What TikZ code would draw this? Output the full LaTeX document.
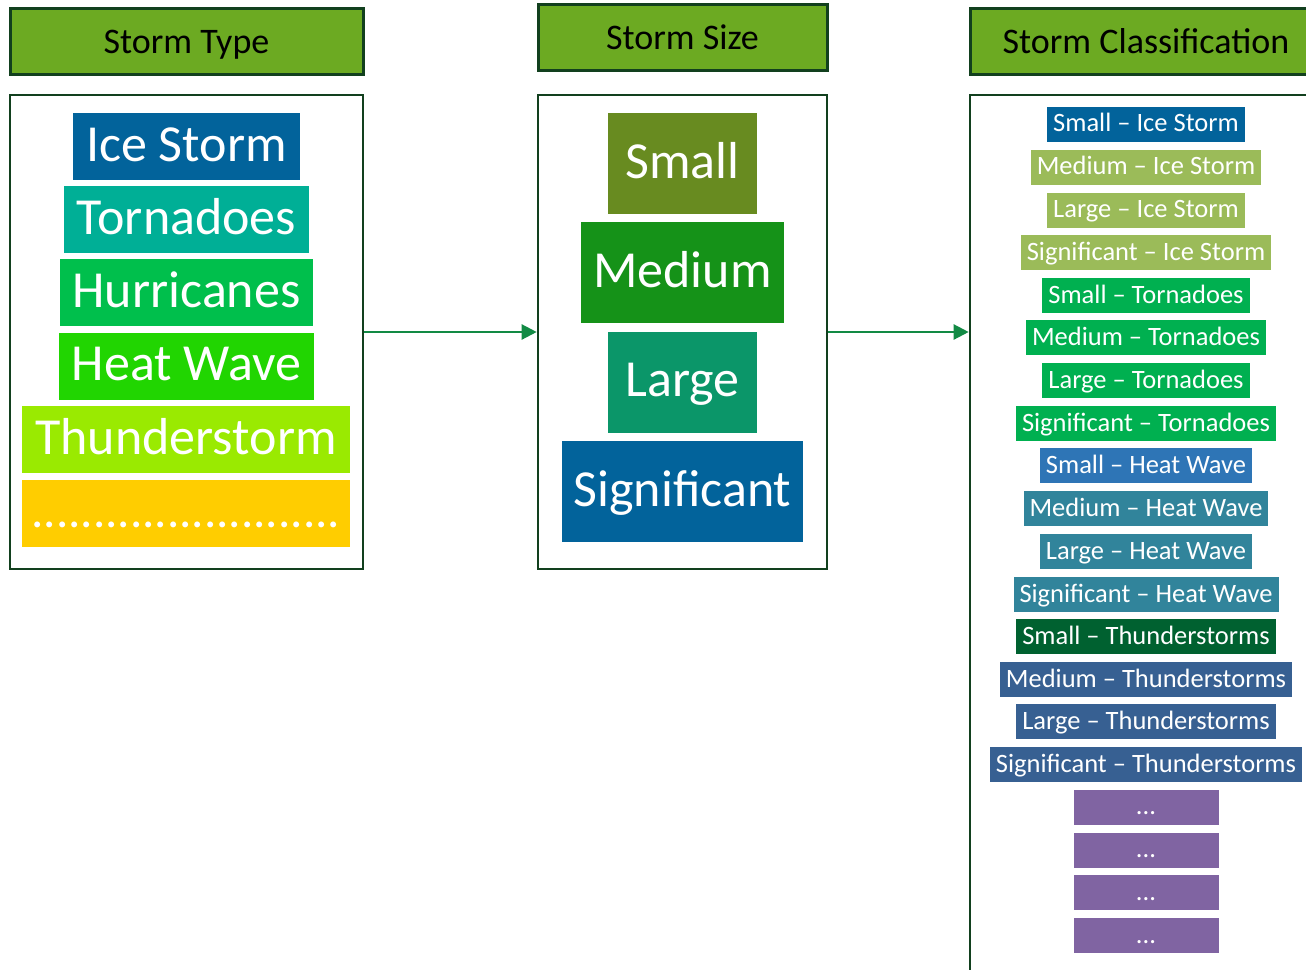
\documentclass[tikz,border=0pt]{standalone}
\usepackage{fontspec}
\setmainfont{Carlito}
\usetikzlibrary{arrows.meta}
\usetikzlibrary{positioning}

\definecolor{headGreen}{RGB}{108,170,34}
\definecolor{frameGreen}{RGB}{18,64,30}
\definecolor{arrowGreen}{RGB}{18,138,68}
\definecolor{iceBlue}{RGB}{2,99,155}
\definecolor{tornTeal}{RGB}{0,175,150}
\definecolor{hurrGreen}{RGB}{0,191,76}
\definecolor{heatGreen}{RGB}{33,213,1}
\definecolor{thunLime}{RGB}{154,234,1}
\definecolor{dotGold}{RGB}{255,205,0}
\definecolor{smallOlive}{RGB}{104,139,32}
\definecolor{mediumGreen}{RGB}{21,146,24}
\definecolor{largeTeal}{RGB}{11,150,105}
\definecolor{rOlive}{RGB}{155,187,89}
\definecolor{rGreen}{RGB}{0,176,80}
\definecolor{rBlue}{RGB}{46,117,182}
\definecolor{rTeal}{RGB}{49,132,155}
\definecolor{rDark}{RGB}{0,97,48}
\definecolor{rNavy}{RGB}{55,96,146}
\definecolor{rPurple}{RGB}{128,100,162}

\begin{document}
\begin{tikzpicture}[x=0.5pt,y=-0.5pt]
	\tikzset{header/.style = {shape=rectangle,draw=frameGreen,line width=1.5pt,
			fill=headGreen,minimum height=33pt,inner sep=0pt,
			text height=15pt,text depth=2.3pt,font=\fontsize{18pt}{21pt}\selectfont}}
	\tikzset{panel/.style = {shape=rectangle,draw=frameGreen,line width=1.3pt,
			fill=white,inner sep=0pt}}
	\tikzset{typeItem/.style = {shape=rectangle,text=white,minimum height=33.5pt,
			inner xsep=6.5pt,inner ysep=0pt,text height=20.8pt,text depth=6.3pt,
			font=\fontsize{26pt}{30pt}\selectfont}}
	\tikzset{sizeItem/.style = {shape=rectangle,text=white,minimum height=50.5pt,
			minimum width=74.5pt,inner xsep=6pt,inner ysep=0pt,text height=20.8pt,
			text depth=6.3pt,font=\fontsize{26pt}{30pt}\selectfont}}
	\tikzset{classItem/.style = {shape=rectangle,text=white,minimum height=17.5pt,
			inner xsep=3pt,inner ysep=0pt,text height=10.6pt,text depth=2.9pt,
			font=\fontsize{13.25pt}{15pt}\selectfont}}
	\tikzset{link/.style = {-{Triangle[length=7.5pt,width=7.5pt]},draw=arrowGreen,
			fill=arrowGreen,line width=1.15pt}}
	
	\useasboundingbox (0,0) rectangle (1306,969);
	\clip (0,0) rectangle (1306,969);
	
	% headers
	\node[header,minimum width=176.5pt] (typeHead) at (186.5,41) {Storm Type};
	\node[header,minimum width=144.5pt] (sizeHead) at (682.5,37) {Storm Size};
	\node[header,minimum width=176pt] (classHead) at (1146,41) {Storm Classification};
	
	% panels
	\node[panel,minimum width=176.5pt,minimum height=237pt] (typeBox) at (186.5,332) {};
	\node[panel,minimum width=144.5pt,minimum height=237pt] (sizeBox) at (682.5,332) {};
	\node[panel,minimum width=176pt,minimum height=460pt] (classBox) at (1146,555) {};
	
	% storm types
	\node[typeItem,fill=iceBlue] (ice) at (186.5,146.5) {Ice Storm};
	\node[typeItem,fill=tornTeal] (torn) at (186.5,219.5) {Tornadoes};
	\node[typeItem,fill=hurrGreen] (hurr) at (186.5,292.5) {Hurricanes};
	\node[typeItem,fill=heatGreen] (heat) at (186.5,366) {Heat Wave};
	\node[typeItem,fill=thunLime] (thun) at (186,439.5) {Thunderstorm};
	\node[typeItem,fill=dotGold,inner xsep=0pt,minimum width=164pt,
		font=\fontsize{24.5pt}{28pt}\selectfont] (more) at (186,513) {.........................};
	
	% storm sizes
	\node[sizeItem,fill=smallOlive] (small) at (682.5,163.5) {Small};
	\node[sizeItem,fill=mediumGreen] (medium) at (682.5,272.5) {Medium};
	\node[sizeItem,fill=largeTeal] (large) at (682.5,382) {Large};
	\node[sizeItem,fill=iceBlue] (significant) at (682.5,491.5) {Significant};
	
	% classifications
	\node[classItem,fill=iceBlue] (c1) at (1146,124) {Small – Ice Storm};
	\node[classItem,fill=rOlive] (c2) at (1146,167) {Medium – Ice Storm};
	\node[classItem,fill=rOlive] (c3) at (1146,210) {Large – Ice Storm};
	\node[classItem,fill=rOlive] (c4) at (1146,252.5) {Significant – Ice Storm};
	\node[classItem,fill=rGreen] (c5) at (1146,295.5) {Small – Tornadoes};
	\node[classItem,fill=rGreen] (c6) at (1146,337.5) {Medium – Tornadoes};
	\node[classItem,fill=rGreen] (c7) at (1146,380.5) {Large – Tornadoes};
	\node[classItem,fill=rGreen] (c8) at (1146,423.5) {Significant – Tornadoes};
	\node[classItem,fill=rBlue] (c9) at (1146,465.5) {Small – Heat Wave};
	\node[classItem,fill=rTeal] (c10) at (1146,508.5) {Medium – Heat Wave};
	\node[classItem,fill=rTeal] (c11) at (1146,551.5) {Large – Heat Wave};
	\node[classItem,fill=rTeal] (c12) at (1146,594.5) {Significant – Heat Wave};
	\node[classItem,fill=rDark] (c13) at (1146,636.5) {Small – Thunderstorms};
	\node[classItem,fill=rNavy] (c14) at (1146,679.5) {Medium – Thunderstorms};
	\node[classItem,fill=rNavy] (c15) at (1146,721.5) {Large – Thunderstorms};
	\node[classItem,fill=rNavy] (c16) at (1146,764.5) {Significant – Thunderstorms};
	\node[classItem,fill=rPurple,minimum width=72.5pt] (c17) at (1146,807) {...};
	\node[classItem,fill=rPurple,minimum width=72.5pt] (c18) at (1146,850) {...};
	\node[classItem,fill=rPurple,minimum width=72.5pt] (c19) at (1146,892.5) {...};
	\node[classItem,fill=rPurple,minimum width=72.5pt] (c20) at (1146,935.5) {...};
	
	%edges
	\draw[link] (typeBox.east) -- (sizeBox.west);
	\draw[link] (sizeBox.east) -- (sizeBox.east -| classBox.west);
	
\end{tikzpicture}
\end{document}
